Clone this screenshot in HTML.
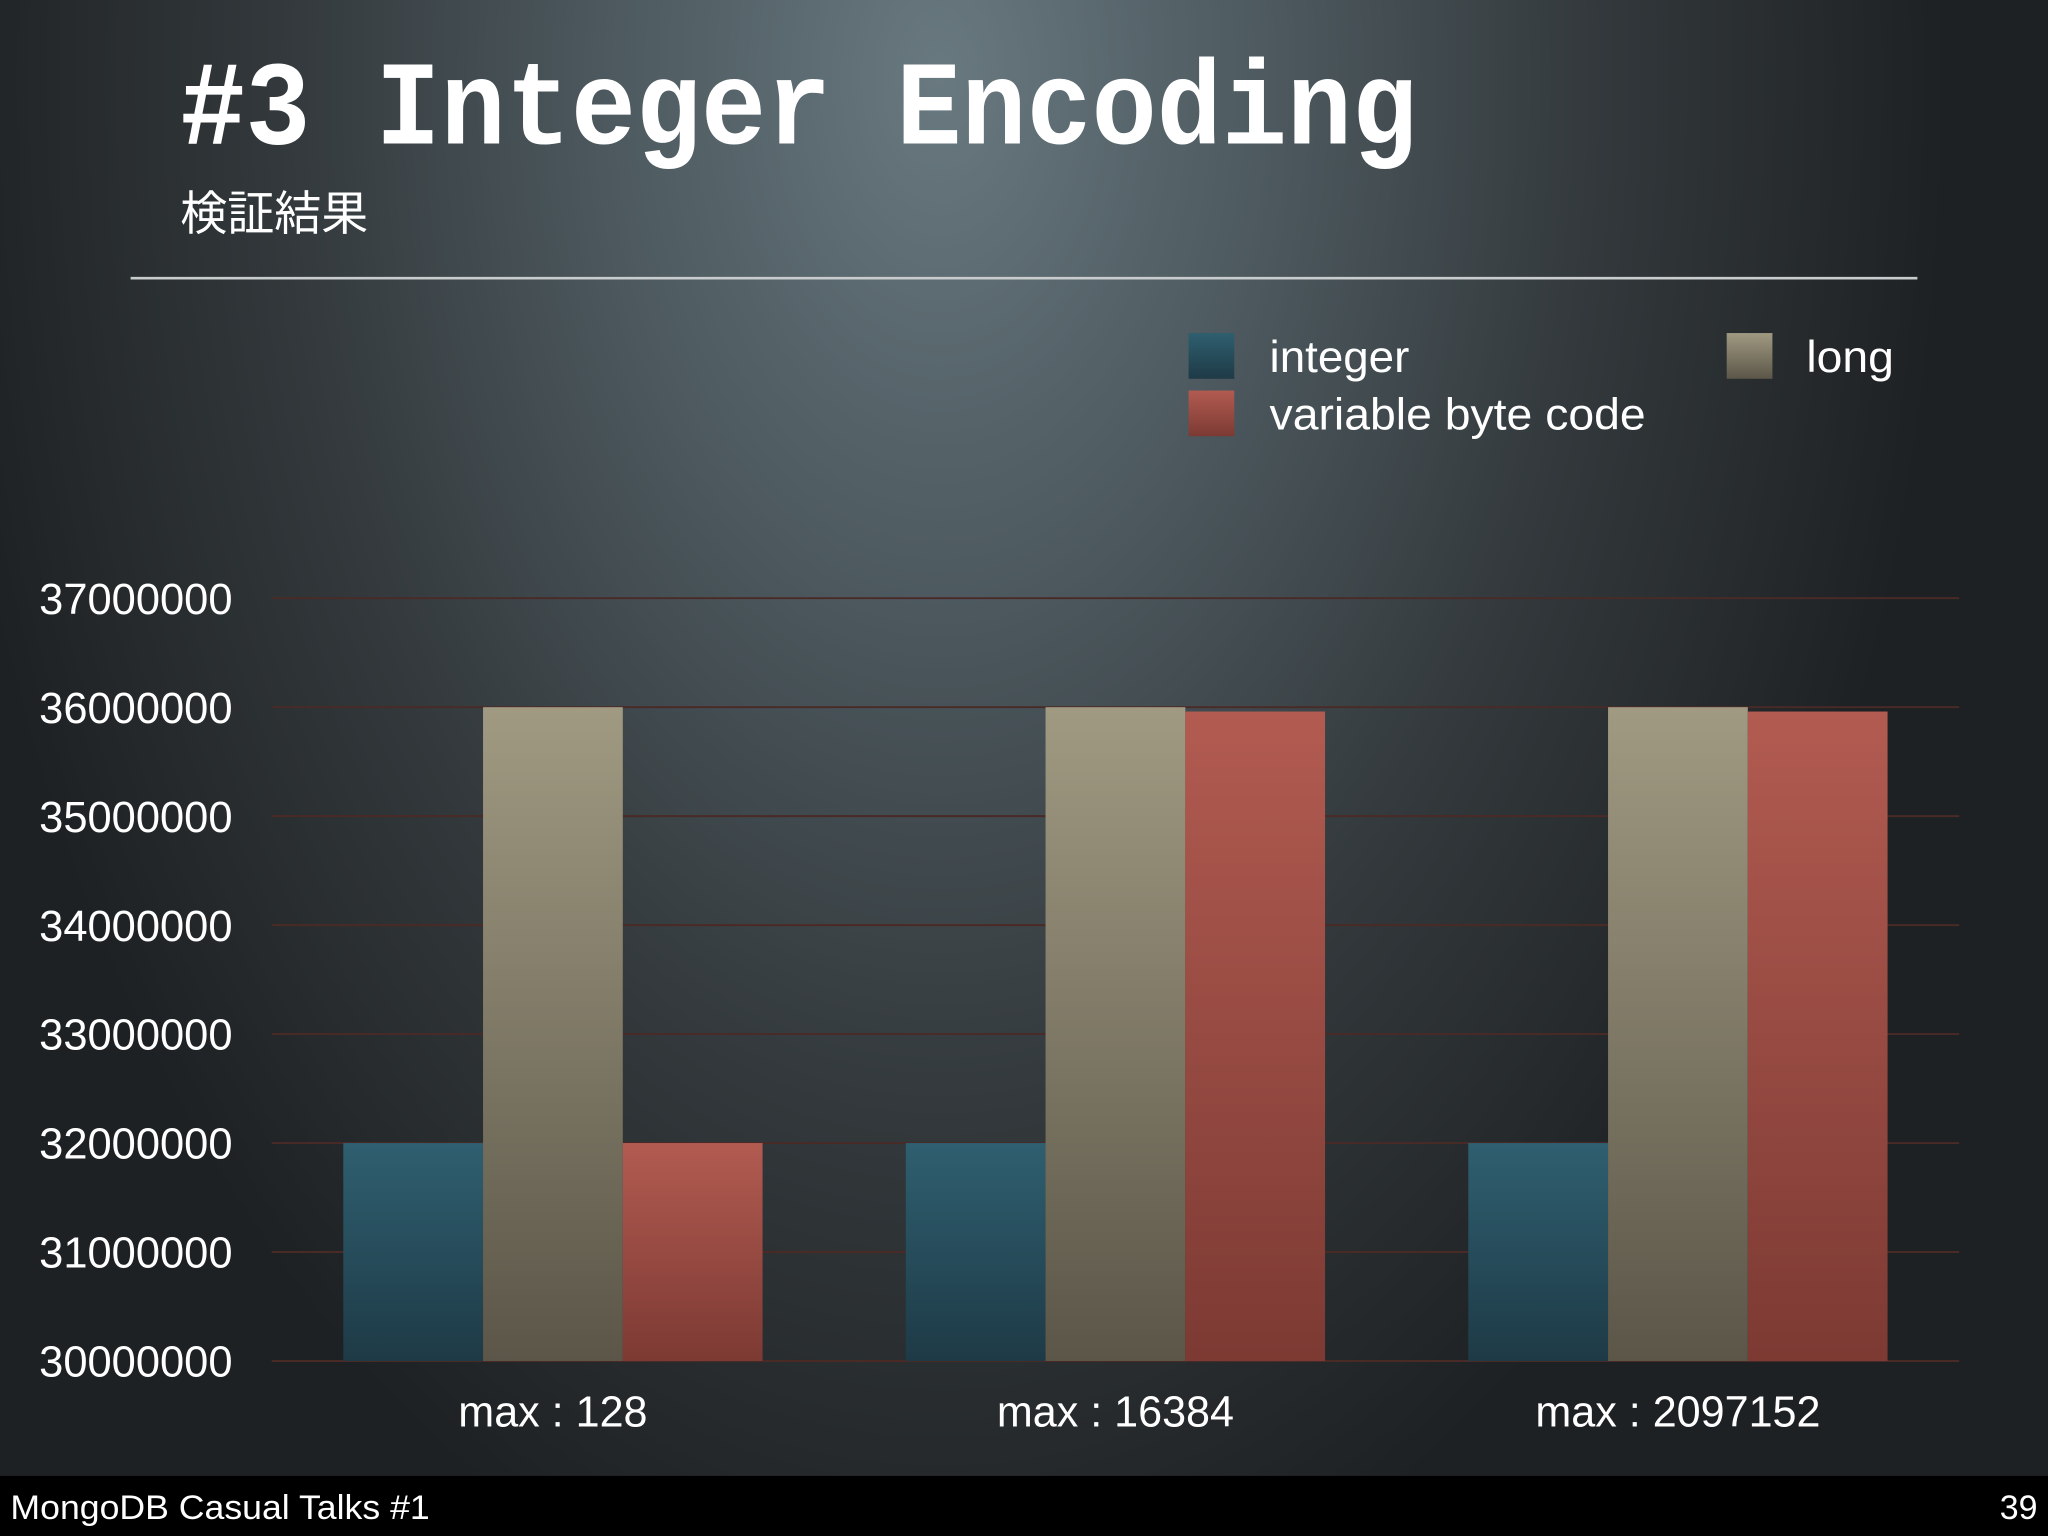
<!DOCTYPE html>
<html><head><meta charset="utf-8"><style>
html,body{margin:0;padding:0;background:#1e2224}
svg{display:block}
</style></head><body>
<svg width="2048" height="1536" viewBox="0 0 1568 1176" xmlns="http://www.w3.org/2000/svg">
<defs>
<radialGradient id="bg" cx="720" cy="60" r="1100" gradientUnits="userSpaceOnUse" gradientTransform="translate(720 60) scale(0.7 1.1) translate(-720 -60)">
<stop offset="0" stop-color="#68797f"/><stop offset="0.3" stop-color="#4f5c62"/><stop offset="0.65" stop-color="#33393c"/><stop offset="1" stop-color="#1e2123"/>
</radialGradient>
<linearGradient id="gInt" x1="0" y1="0" x2="0" y2="1"><stop offset="0" stop-color="#2f5f70"/><stop offset="1" stop-color="#1e3a46"/></linearGradient>
<linearGradient id="gLong" x1="0" y1="0" x2="0" y2="1"><stop offset="0" stop-color="#a09a82"/><stop offset="1" stop-color="#5c5649"/></linearGradient>
<linearGradient id="gVbc" x1="0" y1="0" x2="0" y2="1"><stop offset="0" stop-color="#b25b51"/><stop offset="1" stop-color="#7c3a33"/></linearGradient>
</defs>
<rect width="1568" height="1176" fill="url(#bg)"/>
<text x="138" y="110" fill="#fff" font-family="Liberation Mono, monospace" font-weight="bold" font-size="92" textLength="947" lengthAdjust="spacingAndGlyphs">#3 Integer Encoding</text>
<text x="138" y="176" fill="#fff" font-family="Liberation Sans, Noto Sans CJK JP, sans-serif" font-size="36">検証結果</text>
<line x1="100" y1="213" x2="1468" y2="213" stroke="#c8cccc" stroke-width="2"/>
<g font-family="Liberation Sans, sans-serif" font-size="34" fill="#fff">
<rect x="910" y="255" width="35" height="35" fill="url(#gInt)"/>
<text x="972" y="285" textLength="107" lengthAdjust="spacingAndGlyphs">integer</text>
<rect x="910" y="299" width="35" height="35" fill="url(#gVbc)"/>
<text x="972" y="329" textLength="288" lengthAdjust="spacingAndGlyphs">variable byte code</text>
<rect x="1322" y="255" width="35" height="35" fill="url(#gLong)"/>
<text x="1383" y="285" textLength="67" lengthAdjust="spacingAndGlyphs">long</text>
</g>
<g id="plot"></g>
<rect x="0" y="1130" width="1568" height="46" fill="#000"/>
<text x="8" y="1163" fill="#fff" font-family="Liberation Sans, sans-serif" font-size="26" textLength="321" lengthAdjust="spacingAndGlyphs">MongoDB Casual Talks #1</text>
<text x="1560" y="1163" text-anchor="end" fill="#fff" font-family="Liberation Sans, sans-serif" font-size="26">39</text>
</svg>
<script>
const categories = ["max : 128", "max : 16384", "max : 2097152"];
const integerValues = [32000000, 32000000, 32000000];
const longValues = [36000000, 36000000, 36000000];
const vbcValues = [32000000, 35960000, 35960000];
const yTicks = [30000000, 31000000, 32000000, 33000000, 34000000, 35000000, 36000000, 37000000];
const NS = "http://www.w3.org/2000/svg";
const plot = document.getElementById('plot');
const x0 = 208, x1 = 1500, yMin = 30000000, yMax = 37000000, py0 = 1042, py1 = 458;
const yS = v => py0 - (v - yMin) / (yMax - yMin) * (py0 - py1);
const bandW = (x1 - x0) / categories.length;
const barW = 107;
function mk(tag, attrs){const e=document.createElementNS(NS,tag);for(const k in attrs)e.setAttribute(k,attrs[k]);plot.appendChild(e);return e;}
yTicks.forEach(t=>{
  const l = mk('line',{x1:x0,x2:x1,y1:yS(t),y2:yS(t),stroke:'#4a2a26','stroke-width':1.5});
  
  
  const tx = mk('text',{x:178,y:yS(t)+12,'text-anchor':'end',fill:'#fff','font-family':'Liberation Sans, sans-serif','font-size':33,textLength:148,lengthAdjust:'spacingAndGlyphs'});
  tx.textContent = String(t);
  
  
});
const series = [[integerValues,'url(#gInt)','integer'],[longValues,'url(#gLong)','long'],[vbcValues,'url(#gVbc)','vbc']];
categories.forEach((c,i)=>{
  const cx = x0 + bandW*(i+0.5);
  const start = cx - barW*1.5;
  series.forEach((s,j)=>{
    const v = s[0][i];
    const r = mk('rect',{x:start+j*barW,y:yS(v),width:barW,height:py0-yS(v),fill:s[1]});
    
    
  });
  const t = mk('text',{x:cx,y:1092,'text-anchor':'middle',fill:'#fff','font-family':'Liberation Sans, sans-serif','font-size':33});
  t.textContent = c;
  
  
});
</script>
</body></html>
